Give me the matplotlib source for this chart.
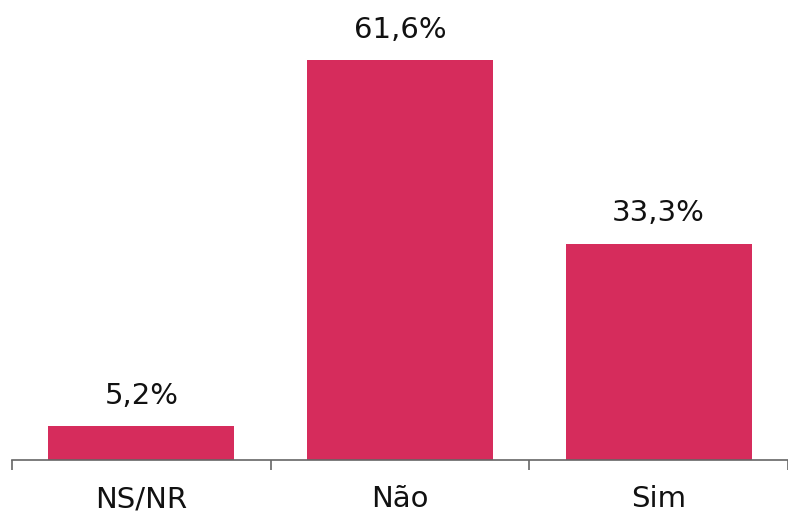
import matplotlib.pyplot as plt
import numpy as np

categorias = ['NS/NR', 'Não', 'Sim']
valores = [5.2, 61.6, 33.3]
rotulos = ['5,2%', '61,6%', '33,3%']

plt.rcParams['font.family'] = ['DejaVu Sans']

fig = plt.figure(figsize=(7.88, 5.15), dpi=100)
ax = fig.add_axes([12 / 788, 55 / 515, 776 / 788, 460 / 515])

x = np.arange(len(categorias))
barras = ax.bar(x, valores, width=0.72, color='#D62C5C')

# rótulos de valor acima das barras
for b, txt in zip(barras, rotulos):
    ax.annotate(txt, (b.get_x() + b.get_width() / 2, b.get_height()),
                xytext=(0, 16), textcoords='offset points',
                ha='center', va='baseline', fontsize=21, color='#111111')

ax.set_xlim(-0.5, 2.5)
ax.set_ylim(0, 70.8)

ax.set_xticks(x)
ax.set_xticklabels(categorias, fontsize=21, color='#111111')
ax.set_xticks([-0.5, 0.5, 1.5, 2.5], minor=True)
ax.tick_params(axis='x', which='major', length=0, pad=18)
ax.tick_params(axis='x', which='minor', length=7.5, width=1.2, color='#666666')
ax.set_yticks([])

for s in ['top', 'right', 'left']:
    ax.spines[s].set_visible(False)
ax.spines['bottom'].set_color('#666666')
ax.spines['bottom'].set_linewidth(1.2)

fig.savefig('out.png', dpi=100)
